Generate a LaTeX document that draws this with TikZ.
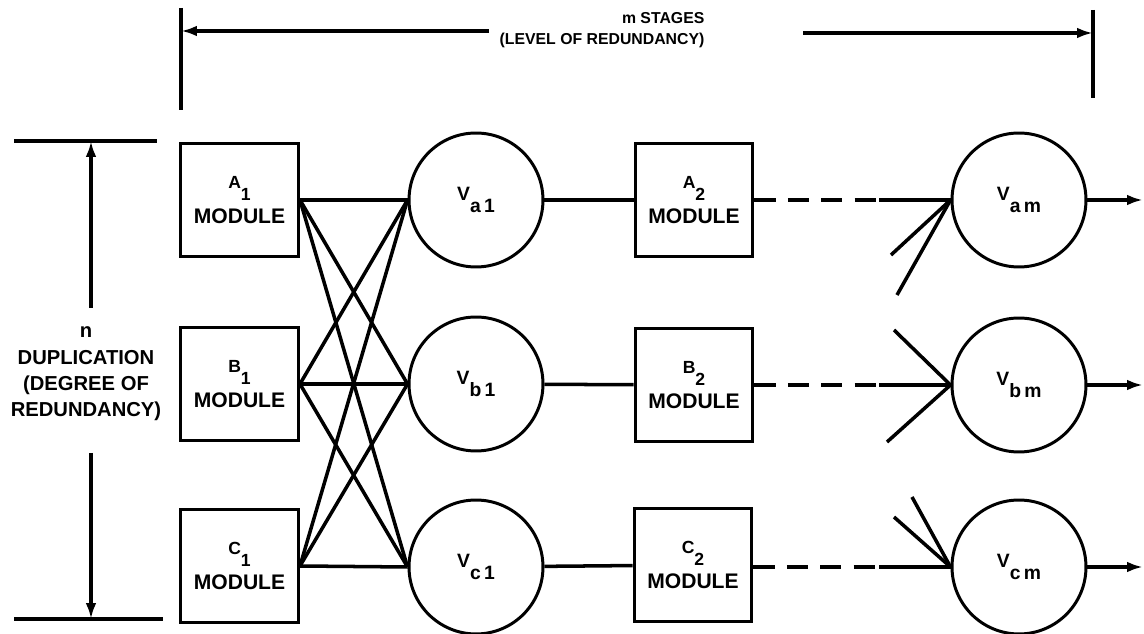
\documentclass[tikz,border=0pt]{standalone}
\usepackage{fontspec}
\setmainfont{Liberation Sans}
\usetikzlibrary{arrows.meta,shapes}
\newcommand\lowr[1]{\raisebox{-7pt}{#1}}
\newcommand\modtext[2]{{\fontsize{10}{10}\selectfont #1\lowr{#2}}\\[4pt]MODULE}
\newcommand\vtext[2]{{\fontsize{11}{11}\selectfont V\lowr{#1\,#2}}}

\begin{document}
\begin{tikzpicture}[x=0.02cm,y=-0.02cm]
\tikzstyle{module}=[rectangle, draw=black, line width=1.7pt, minimum width=2.36cm, minimum height=2.26cm, inner sep=0pt, align=center, font=\bfseries\fontsize{12}{13}\selectfont]
\tikzstyle{voter}=[circle, draw=black, line width=1.7pt, minimum size=2.68cm, inner sep=0pt, font=\bfseries]
\tikzstyle{wire}=[line width=2pt]
\tikzstyle{connect}=[-{Latex[length=9pt,width=6pt]}, line width=2pt]
\tikzstyle{dimtext}=[align=center, inner sep=0pt, font=\bfseries\fontsize{11.5}{15}\selectfont]
\tikzstyle{stagetext}=[align=right, inner sep=0pt, font=\bfseries\fontsize{9}{12}\selectfont]
\useasboundingbox (0,0) rectangle (1144,634);

	\node[module] (A_1) at (239.5,200) {\modtext{A}{1}};
	\node[module] (B_1) at (239.5,384) {\modtext{B}{1}};
	\node[module] (C_1) at (239.5,566) {\modtext{C}{1}};
	\node[voter] (V_a1) at (476,200) {\vtext{a}{1}};
	\node[voter] (V_b1) at (476,384) {\vtext{b}{1}};
	\node[voter] (V_c1) at (476,567) {\vtext{c}{1}};
	\node[module] (A_2) at (694,200) {\modtext{A}{2}};
	\node[module] (B_2) at (694,385) {\modtext{B}{2}};
	\node[module] (C_2) at (693,565) {\modtext{C}{2}};
	\node[voter] (V_am) at (1019,200) {\vtext{a}{m}};
	\node[voter] (V_bm) at (1019,385) {\vtext{b}{m}};
	\node[voter] (V_cm) at (1019,567) {\vtext{c}{m}};

	\node[stagetext] (stages) at (602,30) {m STAGES\\(LEVEL OF REDUNDANCY)};
	\node[dimtext] (dup) at (86,374) {n\\DUPLICATION\\(DEGREE OF\\REDUNDANCY)};

	\coordinate (h_l) at (181,8);
	\coordinate (h_lb) at (181,110);
	\coordinate (h_r) at (1093,10);
	\coordinate (h_rb) at (1093,98);
	\coordinate (g_l) at (489,31);
	\coordinate (g_r) at (803,33);
	\coordinate (n_tl) at (14,141);
	\coordinate (n_tr) at (157,141);
	\coordinate (n_bl) at (14,619);
	\coordinate (n_br) at (163,619);
	\coordinate (n_up) at (91,308);
	\coordinate (n_dn) at (91,453);

	\coordinate (d_a) at (879,200);
	\coordinate (d_b) at (879,385);
	\coordinate (d_c) at (879,567);
	\coordinate (s_a1) at (891,255);
	\coordinate (s_a2) at (897,295);
	\coordinate (s_b1) at (894,330);
	\coordinate (s_b2) at (887,442);
	\coordinate (s_c1) at (894,517);
	\coordinate (s_c2) at (912,497);
	\coordinate (o_a) at (1143,200);
	\coordinate (o_b) at (1143,385);
	\coordinate (o_c) at (1143,567);

	\path[wire]
		(h_l) edge [] (h_lb)
		(h_r) edge [] (h_rb)
		(n_tl) edge [] (n_tr)
		(n_bl) edge [] (n_br);

	\draw[connect]      (g_l) to[]      (h_l |- g_l);
	\draw[connect]      (g_r) to[]      (h_r |- g_r);
	\draw[connect]      (n_up) to[]      (n_up |- n_tl);
	\draw[connect]      (n_dn) to[]      (n_dn |- n_bl);

	\foreach \m in {A_1,B_1,C_1}
		\foreach \v in {V_a1,V_b1,V_c1}
			\draw[wire] (\m.east) -- (\v.west);

	\path[wire]
		(V_a1) edge [] (A_2)
		(V_b1) edge [] (B_2)
		(V_c1) edge [] (C_2)
		(d_a) edge [] (V_am.west)
		(d_b) edge [] (V_bm.west)
		(d_c) edge [] (V_cm.west)
		(V_am.west) edge [] (s_a1)
		(V_am.west) edge [] (s_a2)
		(V_bm.west) edge [] (s_b1)
		(V_bm.west) edge [] (s_b2)
		(V_cm.west) edge [] (s_c1)
		(V_cm.west) edge [] (s_c2);

	\draw[wire,dash pattern=on 12pt off 7pt]      (A_2) to[]      (d_a);
	\draw[wire,dash pattern=on 12pt off 7pt]      (B_2.east) to[]      (d_b);
	\draw[wire,dash pattern=on 12pt off 7pt]      (C_2.east |- d_c) to[]      (d_c);

	\draw[connect]      (V_am) to[]      (o_a);
	\draw[connect]      (V_bm) to[]      (o_b);
	\draw[connect]      (V_cm) to[]      (o_c);
\end{tikzpicture}
\end{document}
